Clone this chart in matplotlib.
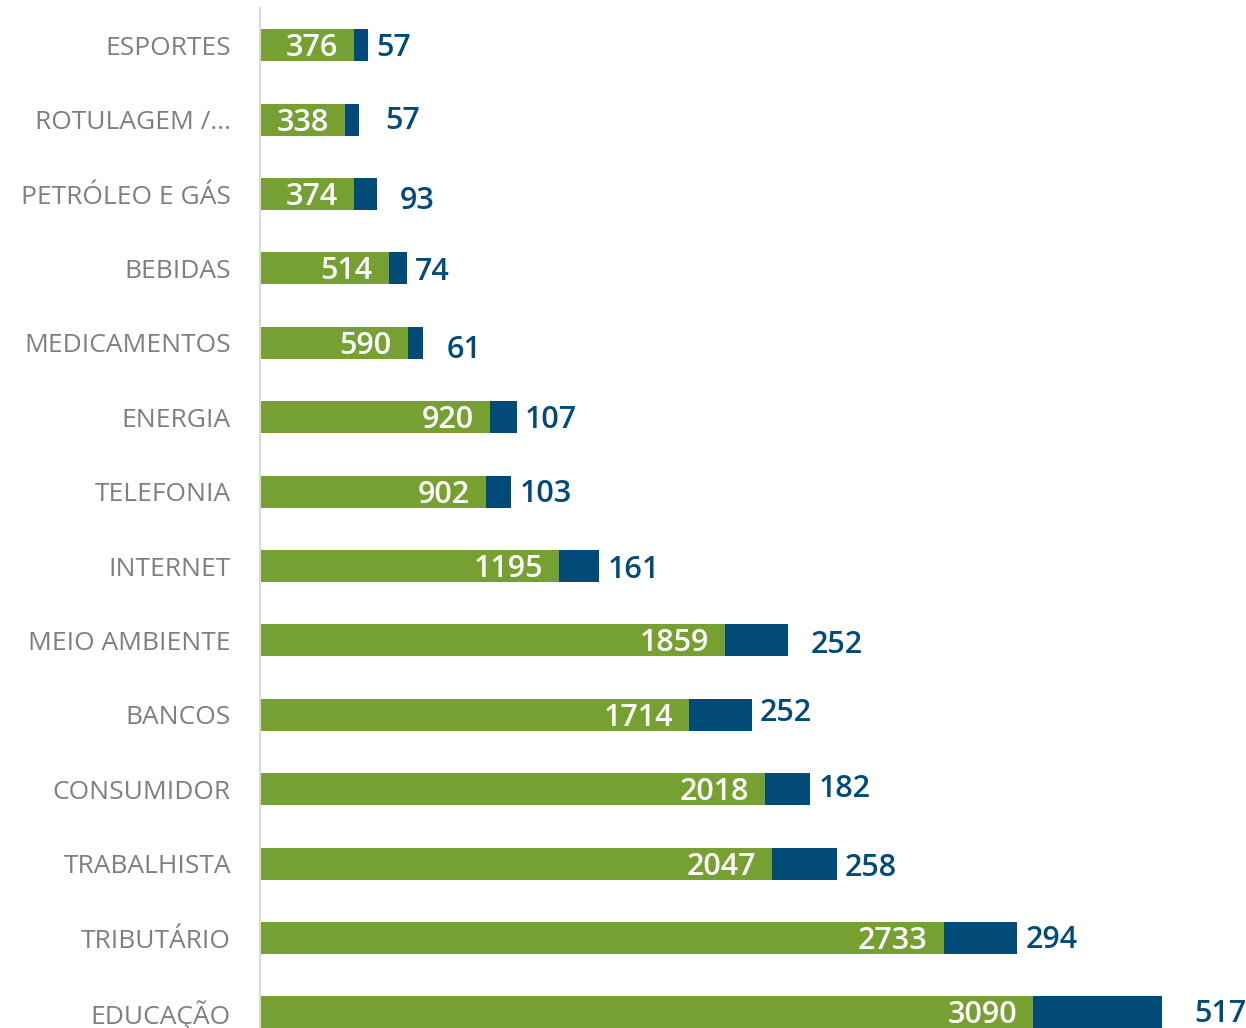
import matplotlib
matplotlib.use("Agg")
import matplotlib.pyplot as plt
from matplotlib.transforms import offset_copy

categories = ["ESPORTES", "ROTULAGEM /...", "PETRÓLEO E GÁS", "BEBIDAS", "MEDICAMENTOS",
              "ENERGIA", "TELEFONIA", "INTERNET", "MEIO AMBIENTE", "BANCOS",
              "CONSUMIDOR", "TRABALHISTA", "TRIBUTÁRIO", "EDUCAÇÃO"]
green_vals = [376, 338, 374, 514, 590, 920, 902, 1195, 1859, 1714, 2018, 2047, 2733, 3090]
navy_vals = [57, 57, 93, 74, 61, 107, 103, 161, 252, 252, 182, 258, 294, 517]

# label nudges (pixels) for the outside labels, as placed in the original
nudge_x = [8, 26, 23, 8, 24, 8, 8, 8, 22, 8, 8, 8, 8, 32]
nudge_y = [-1, 1, -5, -2, -5, -1, 0, -2, -3, 4, 2, -2, 0, 0]

GREEN = "#77A033"
NAVY = "#024B79"
GRAY = "#7F7F7F"

plt.rcParams['font.family'] = ['Open Sans', 'DejaVu Sans']

W, H = 1246, 1028
DPI = 100
fig = plt.figure(figsize=(W / DPI, H / DPI), dpi=DPI)
ax_h = 14 * 74.4
ax = fig.add_axes([260 / W, 1 - (8 + ax_h) / H, 986 / W, ax_h / H])

y = list(range(len(categories)))
ax.barh(y, green_vals, height=0.43, color=GREEN)
ax.barh(y, navy_vals, left=green_vals, height=0.43, color=NAVY)

ax.set_xlim(0, 986 / 0.2502)
ax.set_ylim(len(categories) - 0.5, -0.5)

ax.set_yticks(y)
ax.set_yticklabels(categories, fontsize=19, color=GRAY)
ax.tick_params(axis='y', length=0, pad=21)
ax.set_xticks([])
for s in ['top', 'right', 'bottom']:
    ax.spines[s].set_visible(False)
ax.spines['left'].set_color("#D9D9D9")
ax.spines['left'].set_linewidth(1.5)

px = 72 / DPI
tr_in = offset_copy(ax.transData, fig=fig, x=-16 * px, y=-3 * px, units='points')
for i, (g, n) in enumerate(zip(green_vals, navy_vals)):
    ax.text(g, i, str(g), transform=tr_in, ha='right', va='center',
            color='white', fontsize=22, fontweight='semibold')
    tr_out = offset_copy(ax.transData, fig=fig, x=nudge_x[i] * px,
                         y=(nudge_y[i] - 2) * px, units='points')
    ax.text(g + n, i, str(n), transform=tr_out, ha='left', va='center',
            color=NAVY, fontsize=22, fontweight='semibold')

fig.savefig("out.png", dpi=DPI)
